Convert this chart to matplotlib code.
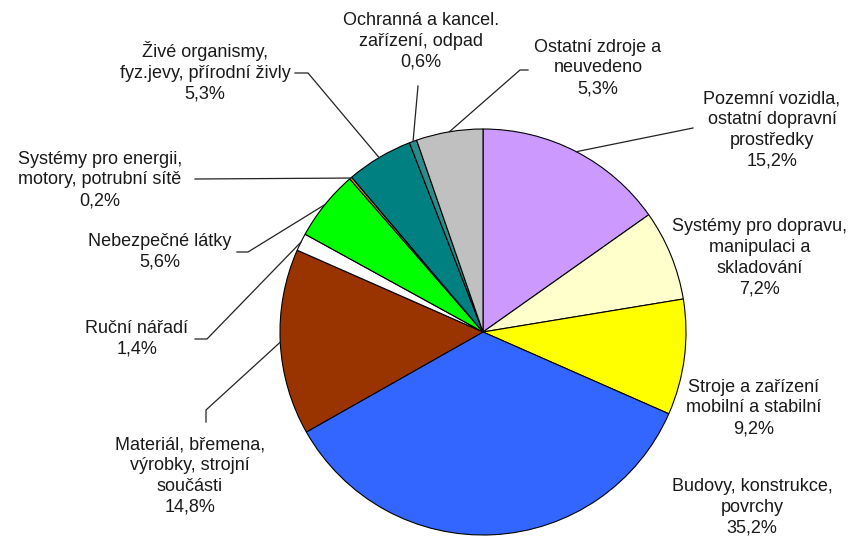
import numpy as np
import matplotlib.pyplot as plt

# accident sources, share of injuries in %
labels = ['Pozemní vozidla,\nostatní dopravní\nprostředky',
          'Systémy pro dopravu,\nmanipulaci a\nskladování',
          'Stroje a zařízení\nmobilní a stabilní',
          'Budovy, konstrukce,\npovrchy',
          'Materiál, břemena,\nvýrobky, strojní\nsoučásti',
          'Ruční nářadí',
          'Nebezpečné látky',
          'Systémy pro energii,\nmotory, potrubní sítě',
          'Živé organismy,\nfyz.jevy, přírodní živly',
          'Ochranná a kancel.\nzařízení, odpad',
          'Ostatní zdroje a\nneuvedeno']
values = [15.2, 7.2, 9.2, 35.2, 14.8, 1.4, 5.6, 0.2, 5.3, 0.6, 5.3]
colors = ['#CC99FF', '#FFFFCC', '#FFFF00', '#3366FF', '#993300', '#FFFFFF',
          '#00FF00', '#CC9900', '#008080', '#2E8B8B', '#C0C0C0']

W, H = 853, 538
cx, cy, R = 483, 332, 203

# label centres and leader elbows in pixel coords (y downwards)
text_pos = [(772, 130), (760, 258), (754, 408), (752, 507), (190, 476),
            (137, 339), (160, 252), (100, 180), (205, 72), (421, 41), (598, 68)]
elbows = [[(693, 128)], [], [], [], [(206, 410), (206, 422)],
          [(207, 339), (195, 339)], [(248, 252), (237, 252)], [(195, 179)],
          [(308, 73), (295, 73)], [(418, 86)], [(520, 70), (528, 70)]]


def fy(y):
    return H - y


fig = plt.figure(figsize=(W / 100, H / 100), dpi=100)
ax = fig.add_axes([0, 0, 1, 1])
wedges, _ = ax.pie(values, colors=colors, startangle=90, counterclock=False,
                   center=(cx, fy(cy)), radius=R, frame=True,
                   wedgeprops=dict(edgecolor='black', linewidth=0.8))
ax.set_xlim(0, W)
ax.set_ylim(0, H)
ax.set_aspect('auto')
ax.axis('off')

for w, lab, v, (tx, ty), pts in zip(wedges, labels, values, text_pos, elbows):
    txt = lab + '\n' + ('%.1f%%' % v).replace('.', ',')
    ax.text(tx, fy(ty), txt, ha='center', va='center', multialignment='center',
            fontsize=13, family='Liberation Sans', color='#1a1a1a', linespacing=1.3)
    if pts:
        ang = np.deg2rad((w.theta1 + w.theta2) / 2)
        xs = [cx + R * np.cos(ang)] + [p[0] for p in pts]
        ys = [fy(cy) + R * np.sin(ang)] + [fy(p[1]) for p in pts]
        ax.plot(xs, ys, color='#222222', linewidth=0.9)

fig.savefig('out.png', dpi=100)
